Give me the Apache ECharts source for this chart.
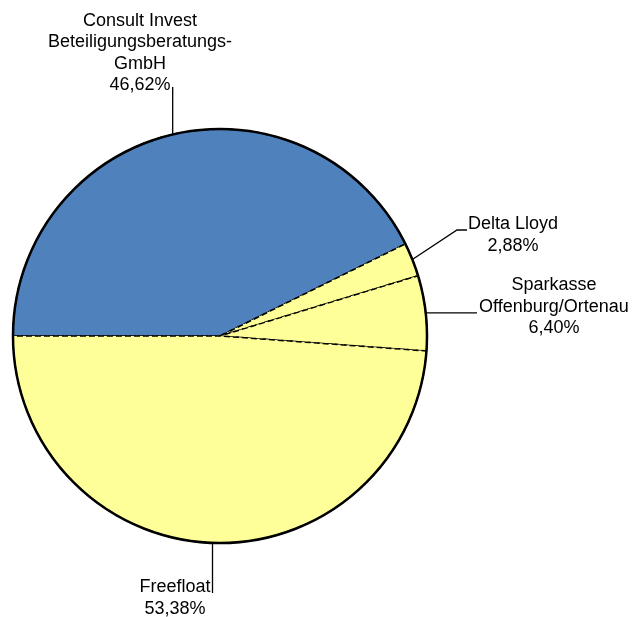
<!DOCTYPE html>
<html>
<head>
<meta charset="utf-8">
<script src="https://cdn.jsdelivr.net/npm/echarts@6/dist/echarts.min.js"></script>
<style>html,body{margin:0;padding:0;background:#fff}#c{width:633px;height:617px}</style>
</head>
<body>
<div id="c"></div>
<script>
// Data
var names = ['Consult Invest\nBeteiligungsberatungs-\nGmbH', 'Delta Lloyd', 'Sparkasse\nOffenburg/Ortenau', 'Freefloat'];
var values = [46.62, 2.88, 6.40, 53.38];
var colors = ['#4F81BD', '#FFFF99', '#FFFF99', '#FFFF99'];

// label placement (layout only)
var labelPos = [[140, 53], [513, 235], [554, 307], [175, 598]];

var chart = echarts.init(document.getElementById('c'), null, {renderer: 'canvas'});
var data = names.map(function (n, i) {
  return {name: n, value: values[i], itemStyle: {color: colors[i]}};
});

chart.setOption({
  backgroundColor: '#ffffff',
  animation: false,
  series: [{
    type: 'pie',
    center: [220, 336],
    radius: 207,
    startAngle: 180,
    clockwise: true,
    avoidLabelOverlap: false,
    silent: true,
    data: data,
    itemStyle: {borderColor: '#000', borderWidth: 1.5, borderType: [6, 3]},
    label: {
      show: true,
      position: 'outside',
      fontFamily: 'Liberation Sans, Arial, sans-serif',
      fontSize: 18,
      lineHeight: 21.5,
      color: '#000',
      align: 'center',
      formatter: function (p) {
        return p.name + '\n' + p.value.toFixed(2).replace('.', ',') + '%';
      }
    },
    labelLine: {show: true, length: 10, length2: 10, lineStyle: {color: '#000', width: 1.3}},
    labelLayout: function (params) {
      var i = params.dataIndex;
      var pts = params.labelLinePoints;
      var p0 = pts ? pts[0] : [0, 0];
      var linePts;
      if (i === 0) linePts = [p0, [p0[0], 87]];
      else if (i === 1) linePts = [p0, [457, 230], [467, 230]];
      else if (i === 2) linePts = [p0, [477, p0[1]]];
      else linePts = [p0, [p0[0], 593]];
      return {
        x: labelPos[i][0],
        y: labelPos[i][1],
        align: 'center',
        verticalAlign: 'middle',
        labelLinePoints: linePts
      };
    }
  }, {
    type: 'pie',
    center: [220, 336],
    radius: 207,
    silent: true,
    z: 5,
    label: {show: false},
    labelLine: {show: false},
    data: [{value: 1, itemStyle: {color: 'rgba(0,0,0,0)', borderColor: '#000', borderWidth: 2.5}}]
  }]
});
</script>
</body>
</html>
